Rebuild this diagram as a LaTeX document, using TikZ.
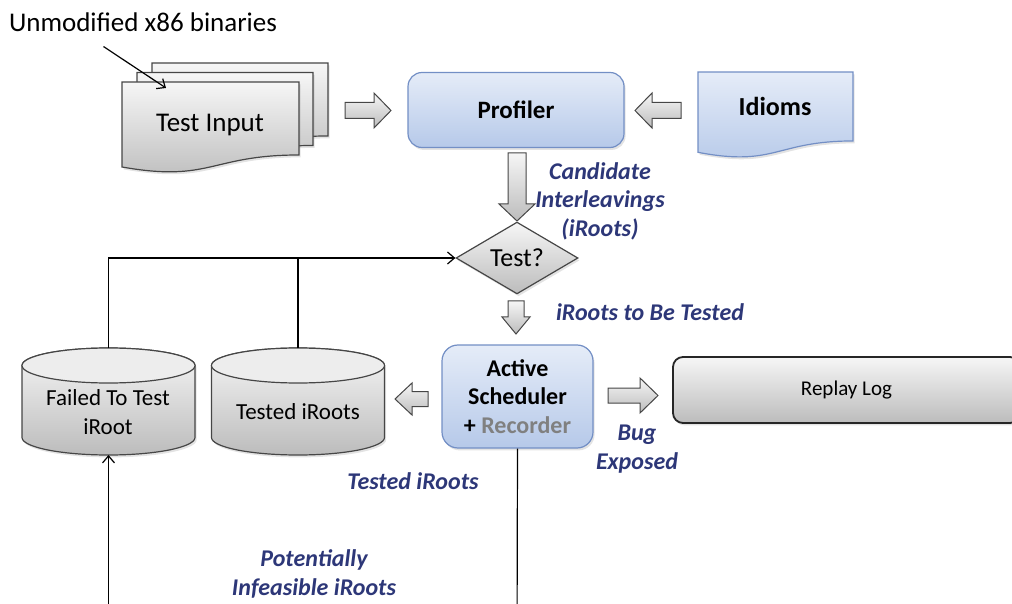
\documentclass[tikz,border=0pt]{standalone}
\usepackage{fontspec}
\setmainfont{Carlito}
\usetikzlibrary{calc,shapes.geometric,arrows.meta,shadows}

\definecolor{ink}{RGB}{45,55,120}
\definecolor{boxline}{RGB}{70,70,70}
\definecolor{blueline}{RGB}{115,143,197}
\definecolor{blueTop}{RGB}{229,236,248}
\definecolor{blueBot}{RGB}{182,201,233}
\definecolor{grayTop}{RGB}{246,246,246}
\definecolor{grayBot}{RGB}{188,188,188}
\definecolor{recgray}{RGB}{128,128,128}

\tikzset{
  grayfill/.style={top color=grayTop, bottom color=grayBot, draw=boxline, line width=0.6pt},
  bluefill/.style={top color=blueTop, bottom color=blueBot, draw=blueline, line width=0.6pt},
  soft/.style={drop shadow={opacity=0.22, shadow xshift=0.8pt, shadow yshift=-1.2pt}},
  docframe/.style={inner sep=0pt, outer sep=0pt},
  wire/.style={draw=black, line width=0.6pt},
  headed/.style={-{Straight Barb[length=3.5pt,width=6pt]}},
  note/.style={text=ink, font=\fontsize{12}{14.2}\selectfont\bfseries\itshape, align=center},
  fat/.style={top color=grayTop, bottom color=grayBot, draw=boxline, line width=0.5pt},
  bluebox/.style={rectangle, rounded corners=7pt, bluefill, soft, align=center},
}

% document outline with a wavy lower edge, fitted to a frame node
\newcommand\docoutline[2]{%
  \path[#2] (#1.north west) -- (#1.north east) -- ($(#1.north east)!0.802!(#1.south east)$)
    .. controls ($(#1.north)!0.802!(#1.south)$) and ($(#1.north)!1.107!(#1.south)$)
    .. ($(#1.north west)!0.934!(#1.south west)$) -- cycle;}

% storage drum fitted to a frame node
\newcommand\drum[1]{%
  \path[grayfill, soft] ($(#1.north west)+(0,17.5)$) -- ($(#1.south west)+(0,-17.5)$)
    arc[start angle=180, end angle=360, x radius=43.25pt, y radius=8.75pt]
    -- ($(#1.north east)+(0,17.5)$)
    arc[start angle=0, end angle=180, x radius=43.25pt, y radius=8.75pt] -- cycle;
  \path[fill=grayTop!85!grayBot, draw=boxline, line width=0.6pt]
    ($(#1.north)+(0,17.5)$) ellipse [x radius=43.25pt, y radius=8.75pt];}

% thick block arrow: tail, tip, shaft half width, head half width, head length
\newcommand\fatarrow[5]{%
  \coordinate (fa) at ($(#2)!#5!(#1)$);
  \path[fat] ($(#1)!#3!90:(#2)$) -- ($(fa)!#3!90:(#2)$) -- ($(fa)!#4!90:(#2)$) -- (#2)
    -- ($(fa)!#4!-90:(#2)$) -- ($(fa)!#3!-90:(#2)$) -- ($(#1)!#3!-90:(#2)$) -- cycle;}

\begin{document}
\begin{tikzpicture}[x=0.5pt, y=-0.5pt, font=\fontsize{13}{15.6}\selectfont]
\useasboundingbox (0,0) rectangle (1012,604);
\clip (0,0) rectangle (1012,604);

% ---- test input stack ----
\node[docframe, minimum width=88pt, minimum height=45.5pt] (inback) at (240,108.5) {};
\node[docframe, minimum width=88pt, minimum height=45.5pt] (inmid) at (225,118) {};
\node[docframe, minimum width=88.5pt, minimum height=45.5pt] (input) at (210.5,127.5) {};
\docoutline{inback}{grayfill,soft}
\docoutline{inmid}{grayfill,soft}
\docoutline{input}{grayfill,soft}
\node[font=\fontsize{13.5}{16}\selectfont] (inputText) at (210,125) {Test Input};

\node[font=\fontsize{13.5}{16}\selectfont] (binaries) at (143,22) {Unmodified x86 binaries};
\coordinate (binTip) at ($(input.north west)+(44,6)$);
\draw[wire, headed] ($(binaries.south west)!0.36!(binaries.south east)+(0,8)$) -- (binTip);

% ---- profiler and idioms ----
\node[bluebox, minimum width=108pt, minimum height=37.5pt,
      font=\fontsize{12.5}{15}\selectfont\bfseries] (prof) at (516,110) {Profiler};

\node[docframe, minimum width=77.5pt, minimum height=43pt] (idioms) at (775.5,115) {};
\docoutline{idioms}{bluefill,soft}
\node[font=\fontsize{13}{15.6}\selectfont\bfseries] (idiomsText) at (775,106) {Idioms};

% ---- test decision ----
\node[diamond, grayfill, soft, minimum width=61pt, minimum height=32pt, inner sep=0pt,
      font=\fontsize{13}{15.6}\selectfont] (test) at (517,258) {Test?};

% ---- scheduler and replay log ----
\node[bluebox, rounded corners=8pt, minimum width=75.5pt, minimum height=51.5pt,
      font=\fontsize{12}{14.25}\selectfont\bfseries] (sched) at (517.5,396.5)
      {Active\\Scheduler\\+ \textcolor{recgray}{Recorder}};

\node[rectangle, rounded corners=5pt, grayfill, draw=black!85, line width=0.9pt, soft,
      minimum width=173.5pt, minimum height=33pt, font=\fontsize{10.5}{12}\selectfont]
      (replay) at (846.5,390) {Replay Log};

% ---- iRoot stores ----
\node[docframe, minimum width=86.5pt, minimum height=53.5pt] (failed) at (108.5,401.5) {};
\node[docframe, minimum width=86.5pt, minimum height=53.5pt] (tested) at (298,401.5) {};
\drum{failed}
\drum{tested}
\node[align=center, font=\fontsize{11.5}{14.5}\selectfont] (failedText) at (108,412) {Failed To Test\\iRoot};
\node[font=\fontsize{11.5}{14.5}\selectfont] (testedText) at (298,412) {Tested iRoots};

% ---- block arrows ----
\coordinate (a1s) at (345,110.5);  \coordinate (a1e) at (391,110.5);
\coordinate (a2s) at (681,110.5);  \coordinate (a2e) at (635,110.5);
\coordinate (a3s) at (517,153);    \coordinate (a3e) at (517,221);
\coordinate (a4s) at (516,301);    \coordinate (a4e) at (516,334);
\coordinate (a5s) at (608,395.5);  \coordinate (a5e) at (658,395.5);
\coordinate (a6s) at (428,399);    \coordinate (a6e) at (395,399);
\fatarrow{a1s}{a1e}{4pt}{8.75pt}{8.5pt}
\fatarrow{a2s}{a2e}{4pt}{8.75pt}{8.5pt}
\fatarrow{a3s}{a3e}{4.5pt}{9pt}{8.5pt}
\fatarrow{a4s}{a4e}{4pt}{7pt}{8.5pt}
\fatarrow{a5s}{a5e}{3.75pt}{8.75pt}{9pt}
\fatarrow{a6s}{a6e}{3.75pt}{8pt}{8.5pt}

% ---- feedback wires ----
\coordinate (belowSched) at (517,640);
\coordinate (belowFailed) at (108.5,640);
\draw[wire, headed] (failed.north) -- (failed.north |- test.west) -- (test.west);
\draw[wire] (tested.north) -- (tested.north |- test.west);
\draw[wire] (sched.south) -- (belowSched);
\draw[wire, headed] (belowFailed) -- (failed.south);

% ---- flow labels ----
\node[note] (lblCand) at (600,201) {Candidate\\Interleavings\\(iRoots)};
\node[note] (lblToTest) at (650,312) {iRoots to Be Tested};
\node[note] (lblBug) at (637,449) {Bug\\Exposed};
\node[note] (lblTested) at (413,481) {Tested iRoots};
\node[note] (lblInfeasible) at (314,574) {Potentially\\Infeasible iRoots};
\end{tikzpicture}
\end{document}
